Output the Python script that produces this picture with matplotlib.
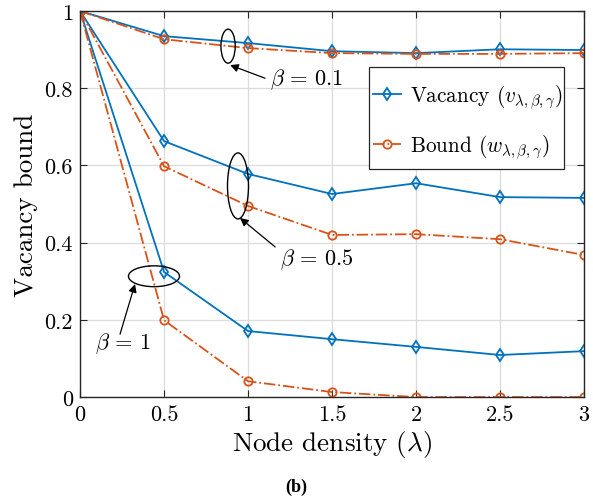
import matplotlib
matplotlib.use("Agg")
import matplotlib.pyplot as plt
from matplotlib.patches import Ellipse, Rectangle

plt.rcParams['mathtext.fontset'] = 'cm'
plt.rcParams['font.family'] = ['cmr10', 'DejaVu Serif']
plt.rcParams['axes.unicode_minus'] = False
plt.rcParams['axes.formatter.use_mathtext'] = True

lam = [0, 0.5, 1, 1.5, 2, 2.5, 3]
vac_01 = [1.0, 0.935, 0.917, 0.896, 0.891, 0.901, 0.899]
bnd_01 = [1.0, 0.927, 0.904, 0.891, 0.889, 0.889, 0.891]
vac_05 = [1.0, 0.663, 0.578, 0.526, 0.554, 0.518, 0.516]
bnd_05 = [1.0, 0.598, 0.495, 0.420, 0.422, 0.409, 0.368]
vac_1 = [1.0, 0.324, 0.171, 0.150, 0.130, 0.109, 0.119]
bnd_1 = [1.0, 0.199, 0.041, 0.013, 0.0, 0.0, 0.0]

xticks = [0, 0.5, 1, 1.5, 2, 2.5, 3]
xticklabels = ['0', '0.5', '1', '1.5', '2', '2.5', '3']
yticks = [0, 0.2, 0.4, 0.6, 0.8, 1]
yticklabels = ['0', '0.2', '0.4', '0.6', '0.8', '1']

blue = '#0072BD'
orange = '#D95319'

fig = plt.figure(figsize=(5.93, 5.02), dpi=100)
ax = fig.add_axes([0.135, 0.207, 0.850, 0.769])

vkw = dict(color=blue, lw=1.3, ls='-', marker='d', ms=6, mfc='none', mew=1.3)
bkw = dict(color=orange, lw=1.3, ls='-.', marker='o', ms=6, mfc='none', mew=1.3)

l1, = ax.plot(lam, vac_01, **vkw)
l2, = ax.plot(lam, bnd_01, **bkw)
ax.plot(lam, vac_05, **vkw)
ax.plot(lam, bnd_05, **bkw)
ax.plot(lam, vac_1, **vkw)
ax.plot(lam, bnd_1, **bkw)

ax.set_xlim(0, 3)
ax.set_ylim(0, 1)
ax.set_xticks(xticks)
ax.set_xticklabels(xticklabels)
ax.set_yticks(yticks)
ax.set_yticklabels(yticklabels)
ax.grid(True, color='#dcdcdc', lw=0.9)
ax.set_axisbelow(True)
ax.tick_params(direction='in', top=True, right=True, labelsize=16, length=5,
               color='#262626', pad=5)
for s in ax.spines.values():
    s.set_color('#262626')
    s.set_linewidth(1.0)

ax.set_xlabel(r'Node density $(\lambda)$', fontsize=19.5, labelpad=3)
ax.set_ylabel('Vacancy bound', fontsize=19.5, labelpad=5)

# legend box drawn manually, entries from frameless legend
ax.add_patch(Rectangle((0.573, 0.59), 0.387, 0.265, transform=ax.transAxes,
                       fc='white', ec='#262626', lw=0.9, zorder=6))
leg = ax.legend([l1, l2], [r'Vacancy $(v_{\lambda,\beta,\gamma})$', r'Bound $(w_{\lambda,\beta,\gamma})$'],
                loc='upper left', bbox_to_anchor=(0.581, 0.815), fontsize=15.3,
                frameon=False, labelspacing=1.0,
                handlelength=1.3, borderpad=0, handletextpad=0.45, borderaxespad=0)
leg.set_zorder(7)

# Ellipses and annotations
ax.add_patch(Ellipse((0.881, 0.909), 0.085, 0.088, fill=False, ec='black', lw=1.0, zorder=5))
ax.add_patch(Ellipse((0.940, 0.547), 0.125, 0.171, fill=False, ec='black', lw=1.0, zorder=5))
ax.add_patch(Ellipse((0.440, 0.313), 0.304, 0.054, fill=False, ec='black', lw=1.0, zorder=5))

akw = dict(arrowstyle='-|>', color='black', lw=0.9, mutation_scale=12, shrinkA=0, shrinkB=0)
ax.annotate('', xy=(0.893, 0.860), xytext=(1.101, 0.826), arrowprops=akw)
ax.annotate('', xy=(0.952, 0.464), xytext=(1.161, 0.389), arrowprops=akw)
ax.annotate('', xy=(0.327, 0.293), xytext=(0.238, 0.163), arrowprops=akw)

ax.text(1.131, 0.824, r'$\beta\,=\,0.1$', fontsize=16, ha='left', va='center')
ax.text(1.19, 0.358, r'$\beta\,=\,0.5$', fontsize=16, ha='left', va='center')
ax.text(0.089, 0.140, r'$\beta\,=\,1$', fontsize=16, ha='left', va='center')

fig.text(0.5, 0.030, '(b)', fontsize=13, fontweight='bold',
         family='Liberation Serif', ha='center', va='center')

fig.savefig('out.png', dpi=100)
